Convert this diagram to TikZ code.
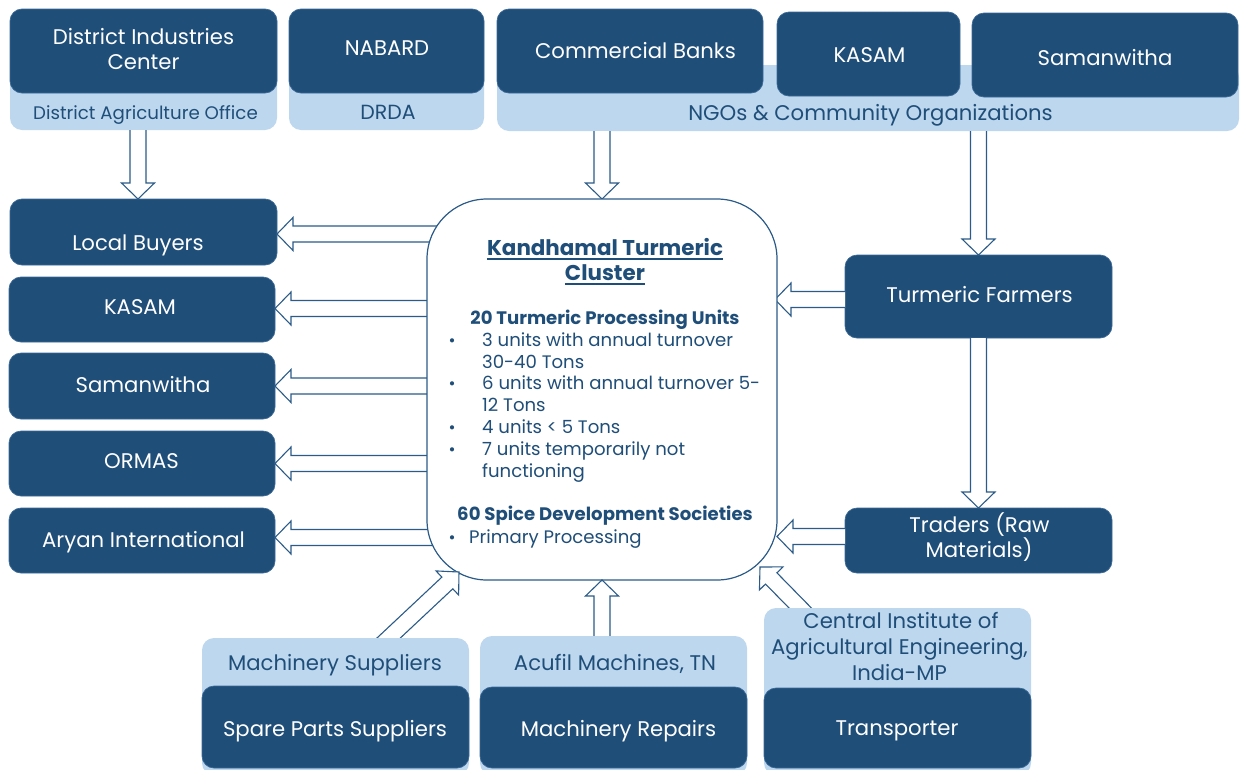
\documentclass[tikz,border=0pt]{standalone}
\usepackage{fontspec}
\setmainfont{Poppins}
\usetikzlibrary{calc}
\definecolor{dk}{HTML}{1F4E79}
\definecolor{lt}{HTML}{BDD7EE}
\definecolor{ln}{HTML}{2B5B88}
\definecolor{bd}{HTML}{3C6A97}
\tikzset{
 darkbox/.style={fill=dk, draw=bd, line width=0.7pt, rounded corners=12pt, inner sep=0pt, outer sep=0pt},
 lightbox/.style={fill=lt, draw=none, rounded corners=12pt, inner sep=0pt, outer sep=0pt},
 wtxt/.style={text=white, font=\fontsize{21.2}{25}\selectfont, anchor=base, inner sep=0pt},
 btxt/.style={text=dk, font=\fontsize{18.2}{22}\selectfont, anchor=base, inner sep=0pt},
 midbtxt/.style={text=dk, font=\fontsize{20.5}{24}\selectfont, anchor=base, inner sep=0pt},
 bigbtxt/.style={text=dk, font=\fontsize{21.2}{25}\selectfont, anchor=base, inner sep=0pt},
 ctitle/.style={text=dk, font=\bfseries\fontsize{21.4}{25}\selectfont, anchor=base, inner sep=0pt},
 chead/.style={text=dk, font=\bfseries\fontsize{18.1}{21}\selectfont, anchor=base, inner sep=0pt},
 ctxt/.style={text=dk, font=\fontsize{18.1}{21}\selectfont, anchor=base west, inner sep=0pt},
 cbul/.style={text=dk, font=\fontsize{17}{20}\selectfont, anchor=base, inner sep=0pt},
 arrowline/.style={draw=ln, fill=white, line width=1.1pt, line join=miter},
 centerbox/.style={draw=ln, fill=white, line width=1.2pt, rounded corners=60pt, inner sep=0pt, outer sep=0pt},
}
\newcommand\boxat[6]{\node[#2, minimum width={(#5-#3)*1pt}, minimum height={(#6-#4)*1pt}] (#1) at ({(#3+#5)/2},{(#4+#6)/2}) {};}
\newcommand\blockarrow[2]{\filldraw[arrowline] let \p1=(#1), \p2=(#2), \n1={atan2(\y2-\y1,\x2-\x1)}, \n2={veclen(\x2-\x1,\y2-\y1)} in [shift={(\p1)}, rotate=\n1] (0pt,-8pt) -- (\n2-16pt,-8pt) -- (\n2-16pt,-16.5pt) -- (\n2,0pt) -- (\n2-16pt,16.5pt) -- (\n2-16pt,8pt) -- (0pt,8pt);}
\begin{document}
\begin{tikzpicture}[x=1pt,y=-1pt]
\useasboundingbox (0,0) rectangle (1240,769);
% top row
\boxat{dicl}{lightbox}{10}{9}{277}{130}
\boxat{dic}{darkbox}{10}{9}{277}{93}
\boxat{nabl}{lightbox}{289}{9}{484}{130}
\boxat{nab}{darkbox}{289}{9}{484}{93}
\boxat{ngol}{lightbox}{497}{65}{1239}{131}
\boxat{cb}{darkbox}{497}{9}{763}{93}
\boxat{kt}{darkbox}{777}{12}{960}{96}
\boxat{st}{darkbox}{972}{13}{1238}{97}
% left column
\boxat{lb}{darkbox}{10}{199}{277}{265}
\boxat{kl}{darkbox}{9}{277}{275}{342}
\boxat{sl}{darkbox}{9}{353}{275}{419}
\boxat{orm}{darkbox}{9}{431}{275}{496}
\boxat{ary}{darkbox}{9}{508}{275}{573}
% right column
\boxat{far}{darkbox}{845}{255}{1112}{338}
\boxat{tra}{darkbox}{845}{508}{1112}{573}
% central box anchors
\coordinate (cnw) at (427,199);
\coordinate (cse) at (777,580);
\node[inner sep=0pt, outer sep=0pt, minimum width=350pt, minimum height=381pt] (cen) at (602,389.5) {};
% straight arrows
\blockarrow{[xshift=-5.5pt]dicl.south}{[xshift=-5.5pt]lb.north}
\blockarrow{cen.north |- ngol.south}{cen.north}
\blockarrow{far.north |- ngol.south}{far.north}
\blockarrow{$(cen.west |- lb.east)+(20,2)$}{$(lb.east)+(0,2)$}
\blockarrow{$(cen.west |- kl.east)+(20,-1)$}{$(kl.east)+(0,-1)$}
\blockarrow{$(cen.west |- sl.east)+(20,0)$}{sl.east}
\blockarrow{$(cen.west |- orm.east)+(20,0)$}{orm.east}
\blockarrow{$(cen.west |- ary.east)+(20,-3)$}{$(ary.east)+(0,-3)$}
\blockarrow{$(far.west)+(0,3)$}{$(cen.east |- far.west)+(-2,3)$}
\blockarrow{far.south}{tra.north}
\blockarrow{$(tra.west)+(0,-4)$}{$(cen.east |- tra.west)+(0,-4)$}
% central box
\draw[centerbox] (cnw) rectangle (cse);
% diagonal and bottom arrows
\coordinate (d1s) at (378,648);
\coordinate (d1e) at (459,572);
\coordinate (d2s) at (811,619);
\coordinate (d2e) at (760,567);
\blockarrow{d1s}{d1e}
\blockarrow{d2s}{d2e}
\blockarrow{$(cen.south)+(0,70)$}{cen.south}
% bottom boxes
\boxat{msl}{lightbox}{202}{638}{469}{775}
\boxat{sp}{darkbox}{202}{686}{469}{768}
\boxat{acl}{lightbox}{480}{636}{747}{775}
\boxat{mr}{darkbox}{480}{687}{747}{768}
\boxat{cil}{lightbox}{764}{608}{1031}{775}
\boxat{trn}{darkbox}{764}{688}{1031}{768}
% texts top
\node[wtxt] (t_dic1) at (143.5,44) {District Industries};
\node[wtxt] (t_dic2) at (143.5,69) {Center};
\node[wtxt] (t_nab) at (387,55) {NABARD};
\node[btxt] (t_dao) at (145.5,119) {District Agriculture Office};
\node[midbtxt] (t_drda) at (388,119) {DRDA};
\node[wtxt] (t_cb) at (635.5,58) {Commercial Banks};
\node[wtxt] (t_kt) at (869.5,62) {KASAM};
\node[wtxt] (t_st) at (1105,65) {Samanwitha};
\node[bigbtxt] (t_ngo) at (870.5,120) {NGOs \& Community Organizations};
% texts left
\node[wtxt] (t_lb) at (138,250) {Local Buyers};
\node[wtxt] (t_kl) at (140,314) {KASAM};
\node[wtxt] (t_sl) at (143,392) {Samanwitha};
\node[wtxt] (t_orm) at (141.5,468) {ORMAS};
\node[wtxt] (t_ary) at (143.5,547) {Aryan International};
% texts right
\node[wtxt] (t_far) at (979.5,302) {Turmeric Farmers};
\node[wtxt] (t_tra1) at (979.5,532) {Traders (Raw};
\node[wtxt] (t_tra2) at (979,557) {Materials)};
% texts bottom
\node[bigbtxt] (t_ms) at (335,670) {Machinery Suppliers};
\node[bigbtxt] (t_ac) at (615,670) {Acufil Machines, TN};
\node[bigbtxt] (t_ci1) at (901,628) {Central Institute of};
\node[bigbtxt] (t_ci2) at (899.5,654) {Agricultural Engineering,};
\node[bigbtxt] (t_ci3) at (899.5,680) {India-MP};
\node[wtxt] (t_sp) at (335,736) {Spare Parts Suppliers};
\node[wtxt] (t_mr) at (618.5,736) {Machinery Repairs};
\node[wtxt] (t_trn) at (897,735) {Transporter};
% central texts
\node[ctitle] (c1) at (605,255) {Kandhamal Turmeric};
\node[ctitle] (c2) at (605,280) {Cluster};
\draw[dk, line width=1.3pt] ([yshift=-4pt]c1.base west) -- ([yshift=-4pt]c1.base east);
\draw[dk, line width=1.3pt] ([yshift=-4pt]c2.base west) -- ([yshift=-4pt]c2.base east);
\node[chead] (c3) at (605,324) {20 Turmeric Processing Units};
\node[cbul] (b1) at (452,346) {\textbullet};
\node[ctxt] (c4) at (482,346) {3 units with annual turnover};
\node[ctxt] (c5) at (482,368) {30-40 Tons};
\node[cbul] (b2) at (452,389) {\textbullet};
\node[ctxt] (c6) at (482,389) {6 units with annual turnover 5-};
\node[ctxt] (c7) at (482,411) {12 Tons};
\node[cbul] (b3) at (452,433) {\textbullet};
\node[ctxt] (c8) at (482,433) {4 units < 5 Tons};
\node[cbul] (b4) at (452,455) {\textbullet};
\node[ctxt] (c9) at (482,455) {7 units temporarily not};
\node[ctxt] (c10) at (482,477) {functioning};
\node[chead] (c11) at (605,520) {60 Spice Development Societies};
\node[cbul] (b5) at (452,543) {\textbullet};
\node[ctxt] (c12) at (469,543) {Primary Processing};
\end{tikzpicture}
\end{document}
